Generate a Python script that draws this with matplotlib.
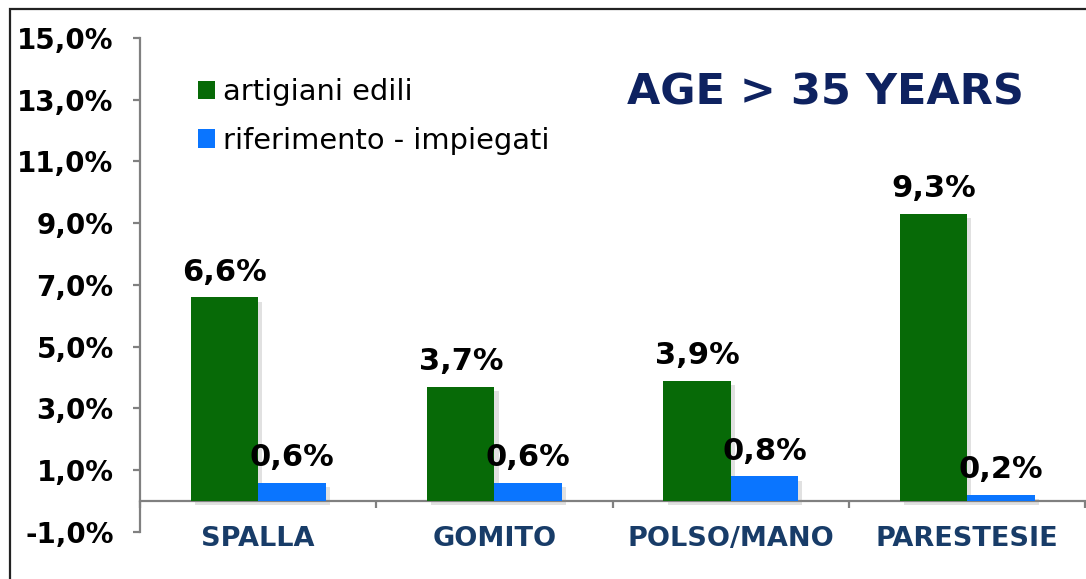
import matplotlib
matplotlib.use("Agg")
import matplotlib.pyplot as plt
import matplotlib.patheffects as pe
from matplotlib.patches import Rectangle
import numpy as np

# data
categories = ["SPALLA", "GOMITO", "POLSO/MANO", "PARESTESIE"]
artigiani = [6.6, 3.7, 3.9, 9.3]
impiegati = [0.6, 0.6, 0.8, 0.2]
series_names = ["artigiani edili", "riferimento - impiegati"]
y_ticks = [-1, 1, 3, 5, 7, 9, 11, 13, 15]
y_tick_labels = ["-1,0%", "1,0%", "3,0%", "5,0%", "7,0%", "9,0%", "11,0%", "13,0%", "15,0%"]
title = "AGE > 35 YEARS"

green = "#076a07"
blue = "#0a75ff"
cat_color = "#183c68"
title_color = "#0e2260"
axis_gray = "#808080"

plt.rcParams["font.family"] = ["DejaVu Sans"]

fig = plt.figure(figsize=(10.86, 5.79), dpi=100)
ax = fig.add_axes([0.1289, 0.0812, 0.8705, 0.8532])

x = np.arange(len(categories))
w = 0.285
shadow = [pe.SimplePatchShadow(offset=(3, -3), shadow_rgbFace="#888888", alpha=0.25), pe.Normal()]
b1 = ax.bar(x - w / 2, artigiani, w, color=green, label=series_names[0], path_effects=shadow, zorder=3)
b2 = ax.bar(x + w / 2, impiegati, w, color=blue, label=series_names[1], path_effects=shadow, zorder=3)

# value labels
for bars, vals in [(b1, artigiani), (b2, impiegati)]:
    for rect, v in zip(bars, vals):
        ax.annotate(("%.1f%%" % v).replace(".", ","),
                    (rect.get_x() + rect.get_width() / 2, v),
                    xytext=(0, 12), textcoords="offset points",
                    ha="center", va="baseline", fontsize=22, fontweight="bold",
                    color="black", zorder=5)

ax.set_xlim(-0.5, 3.5)
ax.set_ylim(-1, 15)

ax.spines["top"].set_visible(False)
ax.spines["right"].set_visible(False)
ax.spines["left"].set_color(axis_gray)
ax.spines["left"].set_linewidth(1.6)
ax.spines["bottom"].set_color(axis_gray)
ax.spines["bottom"].set_linewidth(1.6)
ax.spines["bottom"].set_position(("data", 0))

ax.set_yticks(y_ticks)
ax.set_yticklabels(y_tick_labels, fontsize=20, fontweight="bold")
ax.tick_params(axis="y", length=5, width=1.6, color=axis_gray, pad=14)

ax.set_xticks(x)
ax.set_xticklabels(categories, fontsize=19.5, fontweight="bold", color=cat_color)
ax.tick_params(axis="x", which="major", length=0, pad=18)
ax.set_xticks(np.arange(-0.5, 3.6, 1.0), minor=True)
ax.tick_params(axis="x", which="minor", length=5, width=1.6, color=axis_gray, direction="out")

ax.text(0.725, 0.89, title, transform=ax.transAxes, ha="center", va="center",
        fontsize=31, fontweight="bold", color=title_color)

leg = ax.legend(loc="upper left", bbox_to_anchor=(0.0614, 0.918), frameon=False,
                fontsize=20.8, handlelength=0.6, handleheight=0.6, handletextpad=0.25,
                labelspacing=0.7, borderpad=0, borderaxespad=0)
for h in leg.legend_handles:
    h.set_path_effects([])

# outer frame (top and left edges visible)
fig.add_artist(Rectangle((10 / 1086, -0.2), 1.2, 1 - 9 / 579 + 0.2, transform=fig.transFigure,
                         fill=False, edgecolor="#222222", linewidth=1.6))

fig.savefig("out.png", dpi=100)
